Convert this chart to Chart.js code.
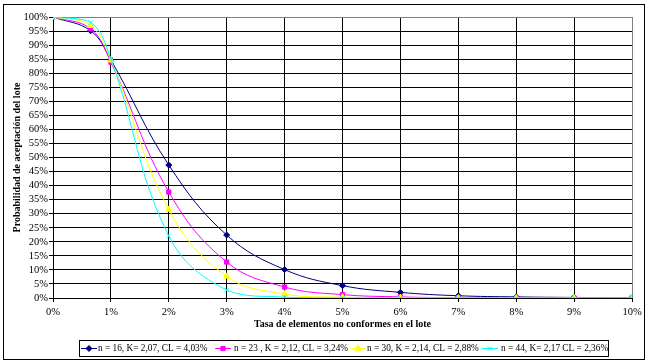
<!DOCTYPE html>
<html><head><meta charset="utf-8">
<script src="https://cdn.jsdelivr.net/npm/chart.js@4.4.0/dist/chart.umd.min.js"></script>
<style>html,body{margin:0;padding:0;background:#fff;} #wrap{width:651px;height:363px;position:relative;}</style>
</head><body><div id="wrap"><canvas id="c" width="651" height="363"></canvas></div>
<script>
// ---- data ----
const xValues = [0, 0.65, 1, 2, 3, 4, 5, 6, 7, 8, 9, 10];
const seriesLabels = [
  'n = 16, K= 2,07, CL = 4,03%',
  'n = 23 , K = 2,12, CL = 3,24%',
  'n = 30, K = 2,14, CL = 2,88%',
  'n = 44, K= 2,17 CL = 2,36%'
];
const n16 = [100, 95.1, 84.7, 47.3, 22.4, 10.1, 4.4, 2.0, 0.8, 0.4, 0.2, 0.1];
const n23 = [100, 95.8, 83.9, 37.7, 12.8, 3.9, 1.2, 0.4, 0.1, 0, 0, 0];
const n30 = [100, 96.9, 84.6, 31.5, 7.7, 1.4, 0.3, 0.1, 0, 0, 0, 0];
const n44 = [100, 98.1, 85.0, 22.1, 2.8, 0.3, 0, 0, 0, 0, 0, 0];
const xTickLabels = ['0%','1%','2%','3%','4%','5%','6%','7%','8%','9%','10%'];
const yTickLabels = ['0%','5%','10%','15%','20%','25%','30%','35%','40%','45%','50%','55%','60%','65%','70%','75%','80%','85%','90%','95%','100%'];
const xTitle = 'Tasa de elementos no conformes en el lote';
const yTitle = 'Probabilidad de aceptación del lote';

// ---- styles ----
const seriesValues = [n16, n23, n30, n44];
const colors = ['#000080', '#FF00FF', '#FFFF00', '#00FFFF'];
const markers = ['rectRot', 'rect', 'triangle', 'crossRot'];
const markerRadius = [3, 3, 3.5, 3];
const SERIF = '"Liberation Serif", "Times New Roman", serif';

const datasets = seriesValues.map((vals, i) => ({
  label: seriesLabels[i],
  data: xValues.map((x, j) => ({x: x, y: vals[j]})),
  borderColor: colors[i],
  backgroundColor: colors[i],
  pointBackgroundColor: colors[i],
  pointBorderColor: colors[i],
  pointStyle: markers[i],
  pointRadius: markerRadius[i],
  pointBorderWidth: 1,
  borderWidth: 1,
  tension: 0.4,
  order: 4 - i
}));

function marker(ctx, style, r, x, y, color) {
  ctx.save();
  ctx.fillStyle = color; ctx.strokeStyle = color; ctx.lineWidth = 1;
  if (Chart.helpers && Chart.helpers.drawPoint) {
    Chart.helpers.drawPoint(ctx, {pointStyle: style, radius: r, rotation: 0, borderWidth: 1}, x, y);
  } else {
    ctx.fillRect(x - r, y - r, 2 * r, 2 * r);
  }
  ctx.restore();
}

const framePlugin = {
  id: 'frame',
  beforeDraw(chart) {
    const ctx = chart.ctx;
    ctx.save();
    ctx.fillStyle = '#fff';
    ctx.fillRect(0, 0, chart.width, chart.height);
    ctx.restore();
  },
  afterDraw(chart) {
    const ctx = chart.ctx;
    ctx.save();
    ctx.strokeStyle = '#000'; ctx.lineWidth = 1;
    ctx.strokeRect(3.5, 4.5, 641, 355);
    // legend box
    ctx.strokeRect(79.5, 340.5, 529, 16);
    const cy = 348.5;
    const lineStarts = [81, 215, 350, 482];
    const textStarts = [98, 234, 367, 501];
    ctx.font = '9.3px ' + SERIF;
    ctx.textBaseline = 'middle';
    ctx.textAlign = 'left';
    for (let i = 0; i < 4; i++) {
      ctx.strokeStyle = colors[i];
      ctx.beginPath();
      ctx.moveTo(lineStarts[i], cy); ctx.lineTo(lineStarts[i] + 16, cy);
      ctx.stroke();
      marker(ctx, markers[i], markerRadius[i], lineStarts[i] + 8, cy, colors[i]);
      ctx.fillStyle = '#000';
      ctx.fillText(seriesLabels[i], textStarts[i], cy + 0.5);
    }
    ctx.restore();
  }
};

new Chart(document.getElementById('c'), {
  type: 'line',
  data: {datasets: datasets},
  plugins: [framePlugin],
  options: {
    responsive: false,
    animation: false,
    devicePixelRatio: 1,
    layout: {padding: {left: 0, right: 19, top: 17, bottom: 0}},
    plugins: {legend: {display: false}, tooltip: {enabled: false}},
    scales: {
      x: {
        type: 'linear', min: 0, max: 10,
        afterFit: s => { s.height = 65; },
        ticks: {stepSize: 1, autoSkip: false, maxRotation: 0, padding: 4, color: '#000',
          font: {family: SERIF, size: 10.5},
          callback: (v, i) => xTickLabels[i]},
        grid: {color: c => (c.tick && c.tick.value === 10) ? '#808080' : '#000', tickColor: '#000', tickLength: 4, lineWidth: 1},
        border: {color: '#000', width: 1},
        title: {display: true, text: xTitle, color: '#000', font: {family: SERIF, size: 10, weight: 'bold'}, padding: {top: 0, bottom: 33}}
      },
      y: {
        min: 0, max: 100,
        afterFit: s => { s.width = 53; },
        ticks: {stepSize: 5, autoSkip: false, padding: 1, color: '#000',
          font: {family: SERIF, size: 10.5},
          callback: (v, i) => yTickLabels[i]},
        grid: {color: c => (c.tick && c.tick.value === 100) ? '#808080' : '#000', tickColor: '#000', tickLength: 4, lineWidth: 1},
        border: {color: '#000', width: 1},
        title: {display: true, text: yTitle, color: '#000', font: {family: SERIF, size: 10, weight: 'bold'}, padding: {top: 11, bottom: 0}}
      }
    }
  }
});
</script></body></html>
